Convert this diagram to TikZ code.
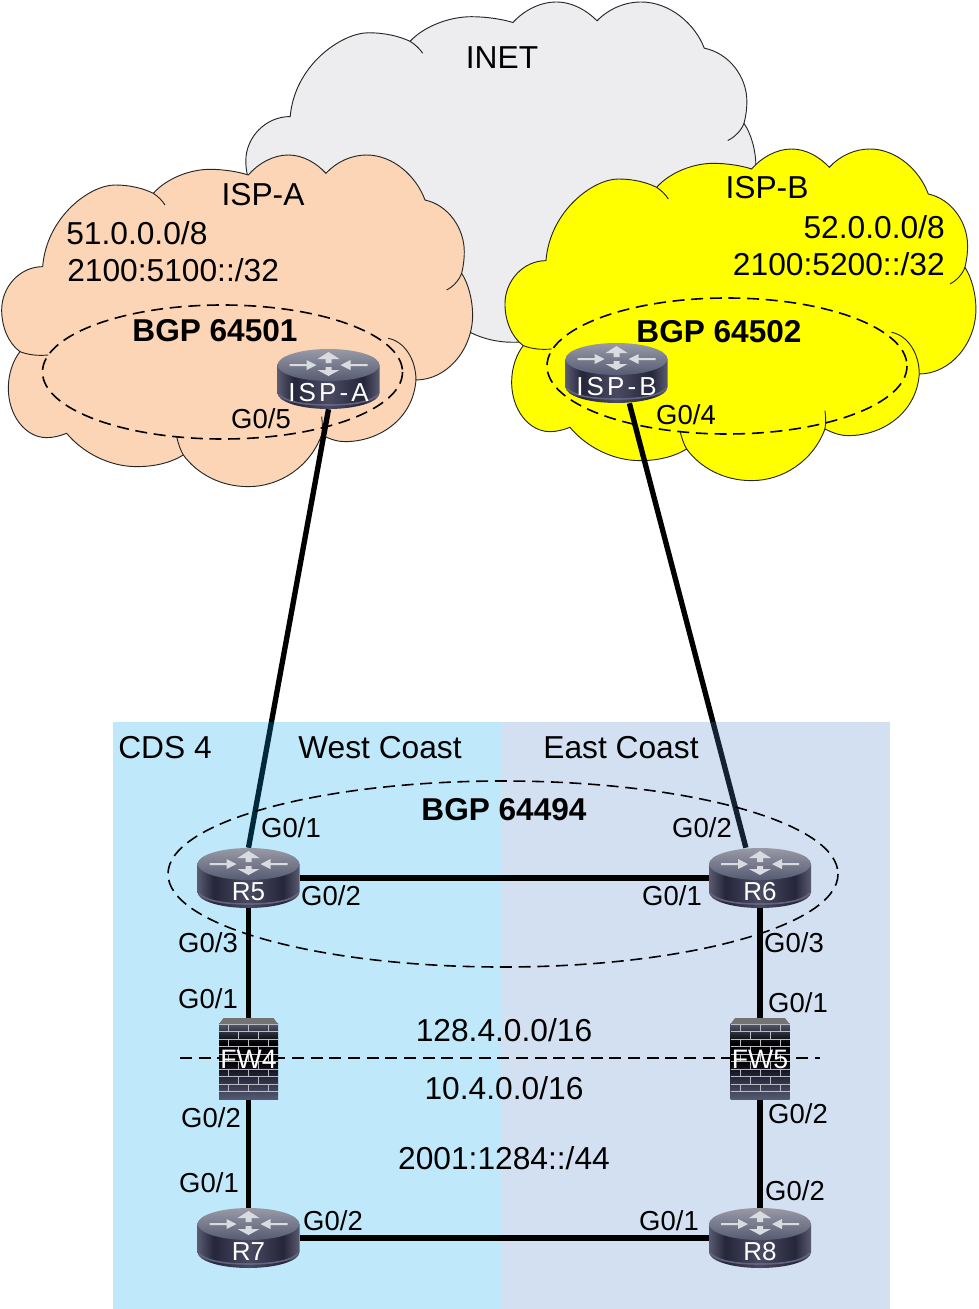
\documentclass[tikz,border=0pt]{standalone}
\usepackage{fontspec}
\setmainfont{Liberation Sans}
\newfontfamily\ispfont[LetterSpace=12]{Liberation Sans}
\usetikzlibrary{backgrounds}

\definecolor{ispapeach}{HTML}{FBD5B5}
\definecolor{ispbyellow}{RGB}{255,255,0}
\definecolor{inetgrey}{HTML}{EDEDEF}
\definecolor{westblue}{RGB}{0,168,236}
\definecolor{eastblue}{RGB}{80,132,204}
\definecolor{routeredge}{HTML}{5A5B70}
\definecolor{routerdark}{HTML}{25263A}
\definecolor{routermid}{HTML}{4A4B63}
\definecolor{routertop}{HTML}{989AA6}
\definecolor{routerlow}{HTML}{565B72}
\definecolor{routerrim}{HTML}{62647F}
\definecolor{routermark}{HTML}{DADBE0}
\definecolor{brickline}{HTML}{B9BAC2}
\pgfdeclarehorizontalshading{routerside}{100bp}{
	color(0bp)=(routeredge); color(25bp)=(routeredge); color(33bp)=(routerdark);
	color(50bp)=(routermid); color(67bp)=(routerdark); color(75bp)=(routeredge); color(100bp)=(routeredge)}
\pgfdeclareverticalshading{brickface}{100bp}{
	color(0bp)=(routerlow); color(25bp)=(routerlow); color(40bp)=(routerdark);
	color(50bp)=(black); color(62bp)=(black); color(75bp)=(routerlow); color(100bp)=(routerlow)}

% one cloud outline, written for a box of about 1420 x 1000
\newcommand{\cloudoutline}{(128,380) .. controls (140,230) and (270,135) .. (345,135)
	.. controls (390,135) and (430,145) .. (460,160)
	.. controls (500,115) and (570,88) .. (630,88)
	.. controls (670,88) and (715,95) .. (745,105)
	.. controls (775,70) and (820,45) .. (865,45)
	.. controls (910,45) and (950,70) .. (978,100)
	.. controls (1010,65) and (1055,45) .. (1100,45)
	.. controls (1180,45) and (1250,110) .. (1275,180)
	.. controls (1345,195) and (1393,265) .. (1393,335)
	.. controls (1393,360) and (1390,380) .. (1385,400)
	.. controls (1405,430) and (1418,480) .. (1418,525)
	.. controls (1418,630) and (1340,720) .. (1248,720)
	.. controls (1240,835) and (1140,905) .. (1035,905)
	.. controls (1015,905) and (995,900) .. (965,885)
	.. controls (930,980) and (840,1040) .. (745,1040)
	.. controls (660,1040) and (590,1000) .. (550,945)
	.. controls (510,970) and (460,980) .. (410,980)
	.. controls (330,980) and (250,940) .. (200,880)
	.. controls (180,888) and (160,893) .. (140,893)
	.. controls (75,893) and (25,825) .. (25,745)
	.. controls (25,700) and (40,660) .. (60,635)
	.. controls (25,610) and (5,560) .. (5,510)
	.. controls (5,440) and (60,380) .. (128,380) -- cycle}
\newcommand{\cloudshape}[5]{
	\begin{scope}[shift={(#1,#2)},xscale=#3,yscale=#4]
		\draw[cloudline,fill=#5] \cloudoutline;
		\draw[cloudline] (460,160) .. controls (475,170) and (487,182) .. (495,195);
		\draw[cloudline] (1385,400) .. controls (1378,420) and (1360,440) .. (1340,450);
		\draw[cloudline] (1165,595) .. controls (1215,605) and (1248,660) .. (1248,720);
		\draw[cloudline] (965,830) .. controls (968,850) and (968,868) .. (965,885);
		\draw[cloudline] (530,890) .. controls (535,910) and (540,928) .. (550,945);
		\draw[cloudline] (60,635) .. controls (85,645) and (115,648) .. (145,645);
	\end{scope}
}
\newcommand{\router}[3]{
	\pic at (#2) {routericon};
	\node [routerbox] (#1) at (#2) {#3};
}
\newcommand{\firewall}[3]{
	\pic at (#2) {firewallicon};
	\node [firewallbox] (#1) at (#2) {#3};
}

\tikzset{
	cloudline/.style={draw=black!85, line width=0.7pt},
	dashline/.style={draw=black, line width=1.2pt, dash pattern=on 9pt off 5pt},
	wire/.style={draw=black, line width=4pt},
	netlabel/.style={font=\fontsize{23.8pt}{27pt}\selectfont, inner sep=0pt},
	bgplabel/.style={font=\bfseries\fontsize{23.7pt}{27pt}\selectfont, inner sep=0pt},
	portlabel/.style={font=\fontsize{20.6pt}{24pt}\selectfont, inner sep=0pt},
	routerbox/.style={inner sep=0pt, text=white, text width=76.5pt, align=center, text height=39pt, text depth=6pt, font=\fontsize{19.5pt}{22pt}\selectfont},
	firewallbox/.style={inner sep=0pt, text=white, minimum width=44.25pt, minimum height=60.75pt, font=\fontsize{20pt}{22pt}\selectfont},
	routericon/.pic={
		\shade[shading=routerside]
			(-51,-14) -- (-51,14) .. controls (-51,23) and (-28,30) .. (0,30)
			.. controls (28,30) and (51,23) .. (51,14) -- (51,-14) -- cycle;
		\draw[draw=routerrim, line width=1.2pt] (-50,15) .. controls (-44,22) and (-28,26) .. (0,26)
			.. controls (28,26) and (44,22) .. (50,15);
		\shade[top color=routertop, bottom color=routerlow] (0,-14) ellipse (51 and 16);
		\foreach \sx in {-1,1} {
			\fill[routermark] (\sx*39,-15) -- (\sx*22,-15) -- (\sx*22,-19) -- (\sx*12,-14)
				-- (\sx*22,-9) -- (\sx*22,-13) -- (\sx*39,-13) -- cycle;
		}
		\fill[routermark] (-3,-16) -- (-3,-20) -- (-11,-20) -- (0,-27) -- (11,-20) -- (3,-20) -- (3,-16) -- cycle;
		\fill[routermark] (-3,-12) -- (-3,-9) -- (-11,-9) -- (0,-3) -- (11,-9) -- (3,-9) -- (3,-12) -- cycle;
	},
	firewallicon/.pic={
		\shade[shading=brickface] (-29.5,-36) rectangle (29.5,40.5);
		\fill[black!55!white] (-29.5,-35) -- (-25,-41) -- (25,-41) -- (29.5,-35) -- cycle;
		\foreach \ry in {-35,-27.5,...,34} {
			\draw[brickline, line width=0.6pt] (-29.5,\ry) -- (29.5,\ry);
		}
		\foreach \ry in {-35,-20,...,30} {
			\foreach \rx in {-20,0,20} {
				\draw[brickline, line width=0.6pt] (\rx,\ry) -- (\rx,\ry+7.5);
			}
		}
		\foreach \ry in {-27.5,-12.5,...,30} {
			\foreach \rx in {-10,10} {
				\draw[brickline, line width=0.6pt] (\rx,\ry) -- (\rx,\ry+7.5);
			}
		}
	},
}

\begin{document}
\begin{tikzpicture}[x=0.75pt,y=-0.75pt]
	\useasboundingbox (0,0) rectangle (978,1309);

	% devices
	\router{ISPA}{328.5,379}{\ispfont ISP-A}
	\router{ISPB}{616.5,373}{\ispfont ISP-B}
	\router{R5}{248.5,878}{R5}
	\router{R6}{760,878}{R6}
	\router{R7}{248.5,1238}{R7}
	\router{R8}{760,1238}{R8}
	\firewall{FW4}{248.5,1059}{FW4}
	\firewall{FW5}{760,1059}{FW5}
	\coordinate (cutleft) at (180,1058);
	\coordinate (cutright) at (820,1058);

	% clouds and site areas
	\begin{scope}[on background layer]
		\cloudshape{244}{-13.4}{0.361}{0.342}{inetgrey}
		\cloudshape{0}{140}{0.3333}{0.3333}{ispapeach}
		\cloudshape{503.3}{134}{0.3333}{0.3333}{ispbyellow}
		\draw[dashline] (222.5,372) ellipse (180 and 67);
		\draw[dashline] (727,366) ellipse (180 and 68);

		\draw[wire] (ISPA.south) -- (R5.north);
		\draw[wire] (ISPB.-67) -- (R6.115);
		\fill[westblue, opacity=0.25] (113,722) rectangle (501,1309);
		\fill[eastblue, opacity=0.25] (501,722) rectangle (890,1309);

		\draw[dashline] (503,874) ellipse (335 and 93);
		\draw[dashline] (cutleft) -- (cutright);
		\draw[wire] (R5) -- (R6);
		\draw[wire] (R7) -- (R8);
		\draw[wire] (R5) -- (FW4);
		\draw[wire] (FW4) -- (R7);
		\draw[wire] (R6) -- (FW5);
		\draw[wire] (FW5) -- (R8);
	\end{scope}

	% cloud texts
	\node [netlabel] (inet) at (502,58) {INET};
	\node [netlabel] (ispaname) at (263,195) {ISP-A};
	\node [netlabel, anchor=west] (ispaviv) at (66,233) {51.0.0.0/8};
	\node [netlabel, anchor=west] (ispavvi) at (67,270) {2100:5100::/32};
	\node [bgplabel] (bgpa) at (215,331) {BGP 64501};
	\node [portlabel] (ispaport) at (261,419) {G0/5};
	\node [netlabel] (ispbname) at (767,188) {ISP-B};
	\node [netlabel, anchor=east] (ispbviv) at (945,227) {52.0.0.0/8};
	\node [netlabel, anchor=east] (ispbvvi) at (945,264) {2100:5200::/32};
	\node [bgplabel] (bgpb) at (719,332) {BGP 64502};
	\node [portlabel] (ispbport) at (686,415) {G0/4};

	% site texts
	\node [netlabel, anchor=west] (cds) at (118,748) {CDS 4};
	\node [netlabel] (west) at (380,748) {West Coast};
	\node [netlabel] (east) at (621,748) {East Coast};
	\node [bgplabel] (bgpcore) at (504,810) {BGP 64494};
	\node [netlabel] (pubnet) at (504,1030) {128.4.0.0/16};
	\node [netlabel] (privnet) at (504,1088) {10.4.0.0/16};
	\node [netlabel] (sixnet) at (504,1158) {2001:1284::/44};

	% port texts
	\node [portlabel] (rvone) at (291,828) {G0/1};
	\node [portlabel] (rvtwo) at (331,896) {G0/2};
	\node [portlabel] (rvthree) at (208,943) {G0/3};
	\node [portlabel] (fwfourone) at (208,999) {G0/1};
	\node [portlabel] (fwfourtwo) at (211,1118) {G0/2};
	\node [portlabel] (rsevenone) at (209,1183) {G0/1};
	\node [portlabel] (rseventwo) at (333,1221) {G0/2};
	\node [portlabel] (rsixtwo) at (702,828) {G0/2};
	\node [portlabel] (rsixone) at (672,896) {G0/1};
	\node [portlabel] (rsixthree) at (794,943) {G0/3};
	\node [portlabel] (fwfiveone) at (798,1003) {G0/1};
	\node [portlabel] (fwfivetwo) at (798,1114) {G0/2};
	\node [portlabel] (reighttwo) at (795,1191) {G0/2};
	\node [portlabel] (reightone) at (669,1221) {G0/1};
\end{tikzpicture}
\end{document}
